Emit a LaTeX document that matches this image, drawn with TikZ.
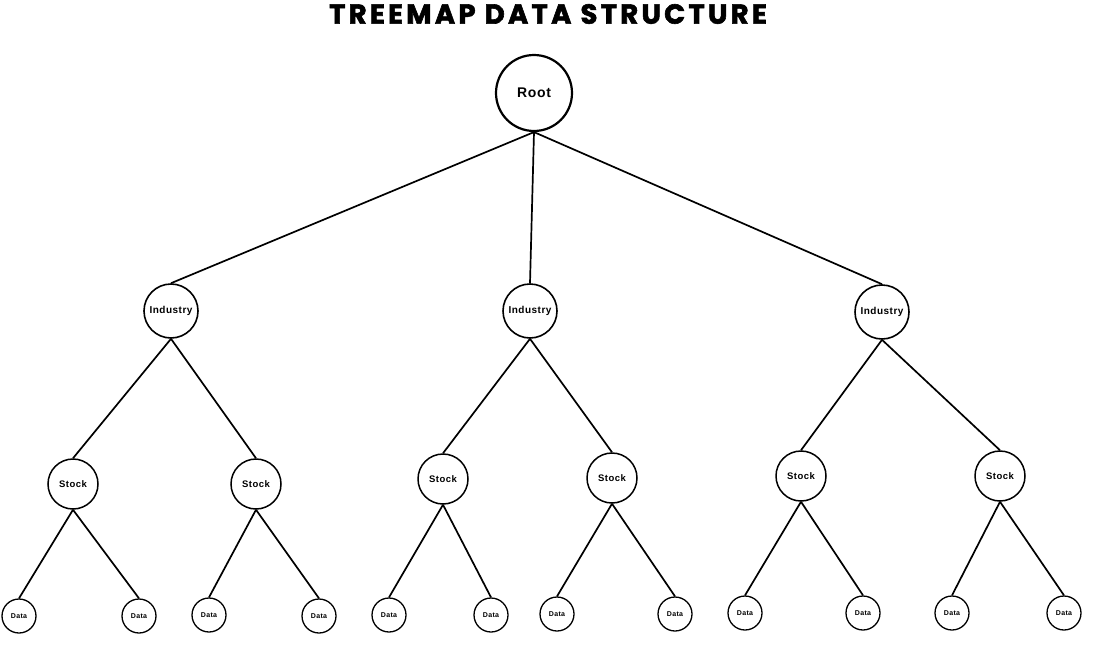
\documentclass[tikz,border=0pt]{standalone}
\usepackage{fontspec}
\setmainfont{Liberation Sans}
\newfontfamily\titlefont[LetterSpace=12,FakeBold=2.2]{Poppins}
\newfontfamily\nodefont[LetterSpace=5]{Liberation Sans}
\begin{document}
\begin{tikzpicture}[x=1pt,y=-1pt,
  treenode/.style={circle,draw=black,fill=white,inner sep=0pt,font=\nodefont\bfseries},
  rootnode/.style={treenode,minimum size=76pt,line width=2.2pt,font=\nodefont\bfseries\fontsize{14}{16}\selectfont},
  indnode/.style={treenode,minimum size=54pt,line width=1.6pt,font=\nodefont\bfseries\fontsize{10}{12}\selectfont},
  stocknode/.style={treenode,minimum size=50pt,line width=1.5pt,font=\nodefont\bfseries\fontsize{9.5}{11}\selectfont},
  datanode/.style={treenode,minimum size=34pt,line width=1.3pt,font=\nodefont\bfseries\fontsize{7}{8}\selectfont},
  edge/.style={draw=black,line width=1.7pt}]
\useasboundingbox (0,0) rectangle (1118,653);
\node[font=\titlefont\bfseries\fontsize{27.5}{30}\selectfont] (title) at (548,14) {TREEMAP DATA STRUCTURE};
\node[rootnode] (root) at (534,93) {Root};
\node[indnode] (i1) at (171,311) {Industry};
\node[indnode] (i2) at (530,311) {Industry};
\node[indnode] (i3) at (882,312) {Industry};
\node[stocknode] (s1) at (73,484) {Stock};
\node[stocknode] (s2) at (256,484) {Stock};
\node[stocknode] (s3) at (443,479) {Stock};
\node[stocknode] (s4) at (612,478) {Stock};
\node[stocknode] (s5) at (801,476) {Stock};
\node[stocknode] (s6) at (1000,476) {Stock};
\node[datanode] (d1) at (19,616) {Data};
\node[datanode] (d2) at (139,616) {Data};
\node[datanode] (d3) at (209,615) {Data};
\node[datanode] (d4) at (319,616) {Data};
\node[datanode] (d5) at (389,615) {Data};
\node[datanode] (d6) at (491,615) {Data};
\node[datanode] (d7) at (557,614) {Data};
\node[datanode] (d8) at (675,614) {Data};
\node[datanode] (d9) at (745,613) {Data};
\node[datanode] (d10) at (863,613) {Data};
\node[datanode] (d11) at (952,613) {Data};
\node[datanode] (d12) at (1064,613) {Data};
\foreach \c in {i1,i2,i3} \draw[edge] (root.south) -- (\c.north);
\draw[edge] (i1.south) -- (s1.north);
\draw[edge] (i1.south) -- (s2.north);
\draw[edge] (i2.south) -- (s3.north);
\draw[edge] (i2.south) -- (s4.north);
\draw[edge] (i3.south) -- (s5.north);
\draw[edge] (i3.south) -- (s6.north);
\draw[edge] (s1.south) -- (d1.north);
\draw[edge] (s1.south) -- (d2.north);
\draw[edge] (s2.south) -- (d3.north);
\draw[edge] (s2.south) -- (d4.north);
\draw[edge] (s3.south) -- (d5.north);
\draw[edge] (s3.south) -- (d6.north);
\draw[edge] (s4.south) -- (d7.north);
\draw[edge] (s4.south) -- (d8.north);
\draw[edge] (s5.south) -- (d9.north);
\draw[edge] (s5.south) -- (d10.north);
\draw[edge] (s6.south) -- (d11.north);
\draw[edge] (s6.south) -- (d12.north);
\end{tikzpicture}
\end{document}
